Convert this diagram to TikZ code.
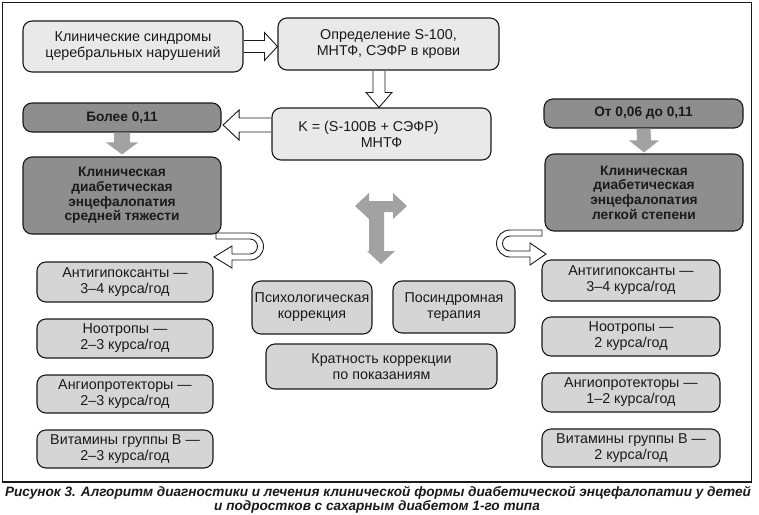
\documentclass[tikz,border=0pt]{standalone}
\usepackage{fontspec}
\setmainfont{Liberation Sans}
\usetikzlibrary{calc}
\definecolor{lightbox}{HTML}{E9E9E9}
\definecolor{midbox}{HTML}{D5D5D5}
\definecolor{darkbox}{HTML}{8E8E8E}
\definecolor{arrowgray}{HTML}{A2A2A2}
\definecolor{ink}{HTML}{1A1A1A}
\begin{document}
\begin{tikzpicture}[x=1pt,y=-1pt,
  box/.style={draw=ink,line width=1.1pt,rounded corners=9pt,align=center,inner sep=2pt,
    font=\fontsize{14.3}{16}\selectfont,text=ink},
  lbox/.style={box,fill=lightbox},
  mbox/.style={box,fill=midbox},
  dbox/.style={box,fill=darkbox,font=\fontsize{13.7}{14.7}\selectfont\bfseries},
  openarrow/.style={draw=ink,line width=0.9pt,fill=white,line join=miter},
  grayarrow/.style={fill=arrowgray,draw=none},
  captext/.style={font=\fontsize{13.6}{13.6}\selectfont\bfseries\itshape,text=ink,inner sep=0pt},
  ]
\useasboundingbox (0,0) rectangle (759,514);
\fill[white] (0,0) rectangle (759,514);
\draw[ink,line width=1.6pt] (2.5,2.5) rectangle (751.5,482);

% U-turn arrows (drawn beneath boxes)
\draw[openarrow] (216,233) -- (250,233) arc[start angle=-90,end angle=90,radius=13.5]
  -- (232,260) -- (232,268) -- (214,257) -- (232,246) -- (232,254) -- (250,254)
  arc[start angle=90,end angle=-90,radius=7.5] -- (216,239) -- cycle;
\draw[openarrow] (542,230) -- (510,230) arc[start angle=-90,end angle=-270,radius=13.5]
  -- (530,257) -- (530,265) -- (546,254) -- (530,243) -- (530,251) -- (510,251)
  arc[start angle=90,end angle=270,radius=7.5] -- (542,236) -- cycle;

% nodes
\node[lbox,minimum width=220pt,minimum height=51pt] (b1) at (133,46.5) {Клинические синдромы\\церебральных нарушений};
\node[lbox,minimum width=221pt,minimum height=52pt] (b2) at (388.5,44) {Определение S-100,\\МНТФ, СЭФР в крови};
\node[lbox,minimum width=219pt,minimum height=52pt] (k) at (381.5,134) {K = (S-100B + СЭФР)\hspace*{26pt}\\МНТФ};
\node[dbox,minimum width=198pt,minimum height=29pt] (bol) at (122,117.5) {Более 0,11};
\node[dbox,minimum width=198pt,minimum height=77pt] (kl1) at (122,195.5) {Клиническая\\диабетическая\\энцефалопатия\\средней тяжести};
\node[dbox,minimum width=199pt,minimum height=29pt] (ot) at (643.5,113.5) {От 0,06 до 0,11};
\node[dbox,minimum width=198pt,minimum height=77pt] (kl2) at (644,192.5) {Клиническая\\диабетическая\\энцефалопатия\\легкой степени};

\node[mbox,minimum width=176pt,minimum height=40pt] (l1) at (125,282) {Антигипоксанты —\\3–4 курса/год};
\node[mbox,minimum width=176pt,minimum height=39pt] (l2) at (125,338.5) {Ноотропы —\\2–3 курса/год};
\node[mbox,minimum width=176pt,minimum height=38pt] (l3) at (125,394) {Ангиопротекторы —\\2–3 курса/год};
\node[mbox,minimum width=176pt,minimum height=38pt] (l4) at (125,449) {Витамины группы В —\\2–3 курса/год};

\node[mbox,minimum width=178pt,minimum height=41pt] (r1) at (631,280.5) {Антигипоксанты —\\3–4 курса/год};
\node[mbox,minimum width=178pt,minimum height=39pt] (r2) at (631,336.5) {Ноотропы —\\2 курса/год};
\node[mbox,minimum width=178pt,minimum height=39pt] (r3) at (631,392.5) {Ангиопротекторы —\\1–2 курса/год};
\node[mbox,minimum width=178pt,minimum height=38pt] (r4) at (631,448) {Витамины группы В —\\2 курса/год};

\node[mbox,minimum width=120pt,minimum height=53pt] (psy) at (312,307.5) {Психологическая\\коррекция};
\node[mbox,minimum width=122pt,minimum height=52pt] (pos) at (454,307) {Посиндромная\\терапия};
\node[mbox,minimum width=231pt,minimum height=45pt] (kr) at (381.5,366.5) {Кратность коррекции\\по показаниям};

% open arrow b1 -> b2
\coordinate (a1s) at (b1.east);
\coordinate (a1e) at (b2.west |- b1.east);
\draw[openarrow] ($(a1s)+(0.5,-6)$) -- ($(a1e)+(-13,-6)$) -- ($(a1e)+(-13,-14)$) -- (a1e)
  -- ($(a1e)+(-13,14)$) -- ($(a1e)+(-13,6)$) -- ($(a1s)+(0.5,6)$);
% open arrow b2 -> k
\coordinate (a2s) at ($(b2.south)+(-9.5,0)$);
\coordinate (a2e) at (a2s |- k.north);
\draw[openarrow] ($(a2s)+(-6,0.5)$) -- ($(a2e)+(-6,-15)$) -- ($(a2e)+(-13,-15)$) -- (a2e)
  -- ($(a2e)+(13,-15)$) -- ($(a2e)+(6,-15)$) -- ($(a2s)+(6,0.5)$);
% open arrow k -> bol
\coordinate (a3s) at ($(k.west)+(0,-9)$);
\coordinate (a3e) at ($(bol.east |- a3s)+(1.5,0)$);
\draw[openarrow] ($(a3s)+(-0.5,-7)$) -- ($(a3e)+(16,-7)$) -- ($(a3e)+(16,-15)$) -- (a3e)
  -- ($(a3e)+(16,15)$) -- ($(a3e)+(16,7)$) -- ($(a3s)+(-0.5,7)$);

% gray arrows
\coordinate (g1s) at (bol.south);
\coordinate (g1e) at ($(kl1.north)+(0,-2)$);
\fill[grayarrow] ($(g1s)+(-8,0)$) -- ($(g1e)+(-8,-12)$) -- ($(g1e)+(-16,-12)$) -- (g1e)
  -- ($(g1e)+(16,-12)$) -- ($(g1e)+(8,-12)$) -- ($(g1s)+(8,0)$) -- cycle;
\coordinate (g2s) at (ot.south);
\coordinate (g2e) at ($(kl2.north)+(0,-1)$);
\fill[grayarrow] ($(g2s)+(-7,0)$) -- ($(g2e)+(-7,-12)$) -- ($(g2e)+(-15,-12)$) -- (g2e)
  -- ($(g2e)+(15,-12)$) -- ($(g2e)+(7,-12)$) -- ($(g2s)+(7,0)$) -- cycle;

% T arrow
\fill[grayarrow] (355,206) -- (369,193) -- (369,201) -- (393,201) -- (393,193) -- (407,206)
  -- (393,219) -- (393,212) -- (384,212) -- (384,251) -- (395,251) -- (381,264)
  -- (367,251) -- (369,251) -- (369,219) -- cycle;

% caption
\node[captext] (cap1) at (378,493)
  {Рисунок 3. Алгоритм диагностики и лечения клинической формы диабетической энцефалопатии у детей};
\node[captext] (cap2) at (377,506.5)
  {и подростков с сахарным диабетом 1-го типа};
\end{tikzpicture}
\end{document}
